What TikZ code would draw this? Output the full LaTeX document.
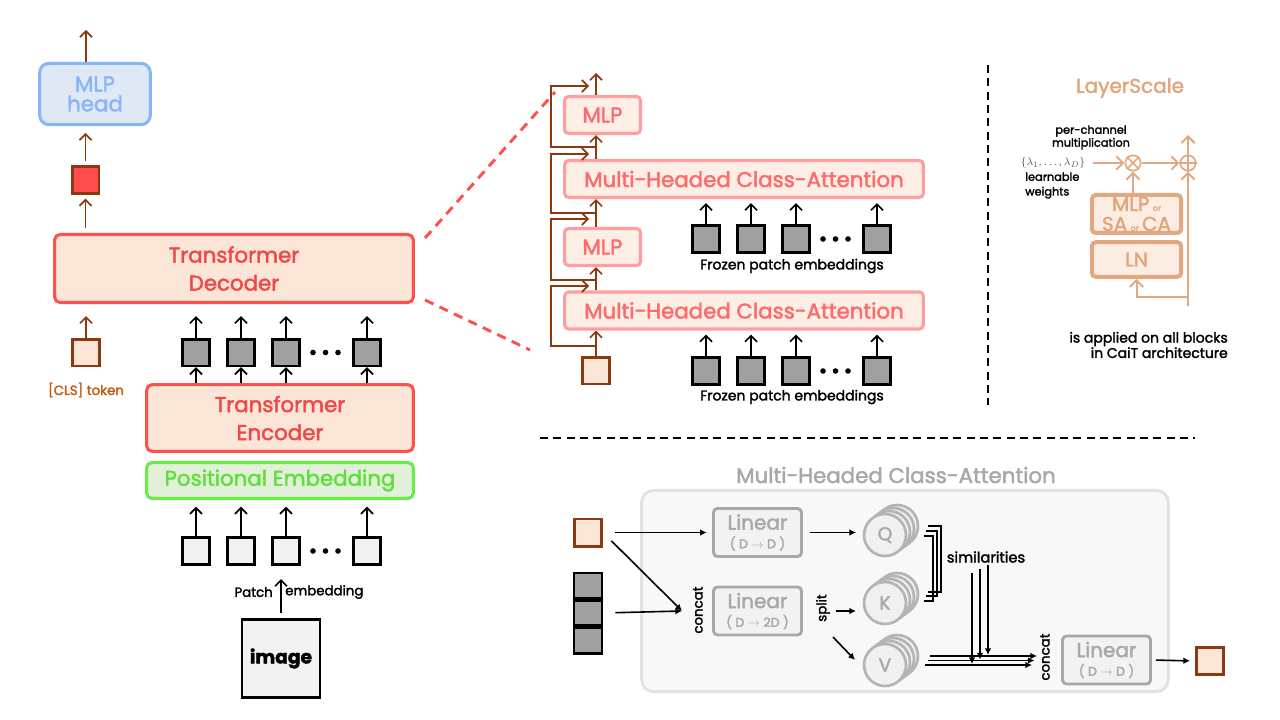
\documentclass[tikz,border=0pt]{standalone}
\usepackage{fontspec}
\setmainfont{Poppins}[FakeBold=2]
\usetikzlibrary{arrows.meta}

\definecolor{brownline}{HTML}{8B3A0F}
\definecolor{clstext}{HTML}{C55A11}
\definecolor{clsred}{HTML}{FF4B4B}
\definecolor{decfill}{HTML}{FBE5D6}
\definecolor{redline}{HTML}{FF5050}
\definecolor{redtext}{HTML}{F04848}
\definecolor{paleline}{HTML}{FF9E9E}
\definecolor{palefill}{HTML}{FDEEE6}
\definecolor{paletext}{HTML}{FF6B6B}
\definecolor{headline}{HTML}{8AB4F8}
\definecolor{headfill}{HTML}{DFE9F6}
\definecolor{greenline}{HTML}{66EE44}
\definecolor{greenfill}{HTML}{E2F0D9}
\definecolor{greentext}{HTML}{5EDF3A}
\definecolor{patchgray}{HTML}{A0A0A0}
\definecolor{patchlight}{HTML}{F2F2F2}
\definecolor{tanline}{HTML}{E2A882}
\definecolor{tantext}{HTML}{E4A47C}
\definecolor{tanfill}{HTML}{FCEDE3}
\definecolor{lingray}{HTML}{A8A8A8}
\definecolor{linfill}{HTML}{F2F2F2}
\definecolor{framefill}{HTML}{F8F8F8}
\definecolor{frameline}{HTML}{E2E2E2}
\definecolor{circline}{HTML}{B4B4B4}
\definecolor{circfill}{HTML}{F0F0F0}
\definecolor{lamtext}{HTML}{555555}

\tikzset{
  arr/.style={line width=1.3pt,-{Straight Barb[length=4.5pt,width=9pt]}},
  brarr/.style={arr,draw=brownline},
  tanarr/.style={line width=1.5pt,draw=tanline,-{Straight Barb[length=5pt,width=10pt]}},
  opline/.style={line width=1.3pt,draw=tanline},
  sarr/.style={line width=1.2pt,-{Latex[length=5pt,width=5pt]}},
  patch/.style={draw=black,line width=2pt,fill=patchgray,minimum size=20pt,inner sep=0pt},
  lightpatch/.style={patch,fill=patchlight},
  clsbox/.style={draw=brownline,line width=2pt,fill=decfill,minimum size=20pt,inner sep=0pt},
  dotb/.style={circle,fill=black,minimum size=4.2pt,inner sep=0pt},
  headbox/.style={draw=headline,line width=2.3pt,fill=headfill,rounded corners=7pt,text=headline,align=center,inner sep=0pt,minimum width=83pt,minimum height=46pt,font=\fontsize{16}{15}\selectfont},
  bigbox/.style={draw=redline,line width=2.3pt,fill=decfill,rounded corners=4pt,text=redtext,align=center,inner sep=0pt,font=\fontsize{16}{21}\selectfont},
  posbox/.style={draw=greenline,line width=2.3pt,fill=greenfill,rounded corners=4pt,text=greentext,inner sep=0pt,font=\fontsize{16}{19}\selectfont},
  imgbox/.style={draw=black,line width=2pt,fill=patchlight,minimum size=58.5pt,inner sep=0pt,font=\bfseries\fontsize{14}{16}\selectfont},
  blockbox/.style={draw=paleline,line width=2.3pt,fill=palefill,rounded corners=3pt,text=paletext,inner sep=0pt,minimum height=27.75pt,font=\fontsize{16}{19}\selectfont},
  smalltxt/.style={inner sep=0pt,font=\fontsize{10}{12}\selectfont},
  linbox/.style={draw=lingray,line width=2.2pt,fill=linfill,rounded corners=3pt,text=lingray,align=center,inner sep=0pt,minimum width=66pt,minimum height=36pt,font=\fontsize{15}{14}\selectfont},
  qkv/.style={circle,draw=circline,line width=2pt,fill=circfill,minimum size=31.5pt,inner sep=0pt,text=lingray,font=\fontsize{14}{14}\selectfont},
  opcirc/.style={circle,draw=tanline,line width=1.3pt,minimum size=11.5pt,inner sep=0pt},
  lsbox/.style={draw=tanline,line width=3pt,fill=tanfill,rounded corners=3pt,text=tantext,align=center,inner sep=0pt,minimum width=67pt,font=\fontsize{15}{15}\selectfont},
  zoomline/.style={draw=redline,line width=2.2pt,dash pattern=on 7pt off 5pt},
  sepline/.style={line width=1pt,dash pattern=on 6pt off 4pt},
  frame/.style={draw=frameline,line width=2.2pt,fill=framefill,rounded corners=9pt,minimum width=395pt,minimum height=151pt,inner sep=0pt},
}

\begin{document}
\begin{tikzpicture}[x=0.75pt,y=0.75pt,yscale=-1,xscale=1]
    \useasboundingbox (0,0) rectangle (1280,720);
    % left: encoder and decoder
    \node[headbox] (head) at (95,94) {MLP\\head};
    \coordinate (headout) at (86,30);
    \draw[brarr] (head.north -| headout) -- (headout);
    \node[clsbox,fill=clsred] (clsout) at (85.5,180) {};
    \draw[brarr,shorten <=3pt,shorten >=5pt] (clsout.north) -- (clsout.north |- head.south);
    \node[bigbox,minimum width=269pt,minimum height=51pt] (dec) at (234,268.5) {Transformer\\Decoder};
    \draw[brarr,shorten <=4pt,shorten >=3pt] (clsout.south |- dec.north) -- (clsout.south);
    \node[clsbox] (cls) at (86,352.5) {};
    \draw[brarr,shorten >=9pt] (cls.north) -- (cls.north |- dec.south);
    \node[smalltxt,text=clstext] (clstxt) at (86,390) {[CLS] token};
    \node[patch] (pa) at (196,352.5) {};
    \node[patch] (pb) at (241,352.5) {};
    \node[patch] (pc) at (286,352.5) {};
    \node[patch] (pd) at (367,352.5) {};
    \node[dotb] (da) at (313,352.5) {};
    \node[dotb] (db) at (325.5,352.5) {};
    \node[dotb] (dc) at (338,352.5) {};
    \draw[arr,shorten >=9pt] (pa.north) -- (pa.north |- dec.south);
    \draw[arr,shorten >=9pt] (pb.north) -- (pb.north |- dec.south);
    \draw[arr,shorten >=9pt] (pc.north) -- (pc.north |- dec.south);
    \draw[arr,shorten >=9pt] (pd.north) -- (pd.north |- dec.south);
    \node[bigbox,minimum width=200pt,minimum height=50pt] (enc) at (280,418) {Transformer\\Encoder};
    \draw[arr] (pa.south |- enc.north) -- (pa.south);
    \draw[arr] (pb.south |- enc.north) -- (pb.south);
    \draw[arr] (pc.south |- enc.north) -- (pc.south);
    \draw[arr] (pd.south |- enc.north) -- (pd.south);
    \node[posbox,minimum width=200pt,minimum height=27pt] (pos) at (280,480.5) {Positional Embedding};
    \node[lightpatch] (la) at (196,551) {};
    \node[lightpatch] (lb) at (241,551) {};
    \node[lightpatch] (lc) at (286,551) {};
    \node[lightpatch] (ld) at (367,551) {};
    \node[dotb] (ea) at (313,551) {};
    \node[dotb] (eb) at (325.5,551) {};
    \node[dotb] (ec) at (338,551) {};
    \draw[arr,shorten >=5pt] (la.north) -- (la.north |- pos.south);
    \draw[arr,shorten >=5pt] (lb.north) -- (lb.north |- pos.south);
    \draw[arr,shorten >=5pt] (lc.north) -- (lc.north |- pos.south);
    \draw[arr,shorten >=5pt] (ld.north) -- (ld.north |- pos.south);
    \node[imgbox] (img) at (281,658.5) {image};
    \draw[arr,shorten <=4pt,shorten >=10pt] (img.north) -- (img.north |- lc.south);
    \node[smalltxt,anchor=east] (ptxt) at (273,592) {Patch};
    \node[smalltxt,anchor=west] (etxt) at (285,592) {embedding};
    \draw[zoomline] (425,238) -- (555,92);
    \draw[zoomline] (425,300) -- (530,350);
    % middle: class-attention stage
    \node[blockbox,minimum width=57pt] (mlpa) at (602.5,115) {MLP};
    \node[blockbox,minimum width=269pt] (mhcaa) at (744,179) {Multi-Headed Class-Attention};
    \node[blockbox,minimum width=57pt] (mlpb) at (602.5,247) {MLP};
    \node[blockbox,minimum width=269pt] (mhcab) at (744,310.5) {Multi-Headed Class-Attention};
    \node[clsbox] (clsb) at (596,370.5) {};
    \coordinate (decout) at (596,73);
    \draw[brarr] (clsb.north) -- (clsb.north |- mhcab.south);
    \draw[brarr] (clsb.north |- mhcab.north) -- (clsb.north |- mlpb.south);
    \draw[brarr] (clsb.north |- mlpb.north) -- (clsb.north |- mhcaa.south);
    \draw[brarr] (clsb.north |- mhcaa.north) -- (clsb.north |- mlpa.south);
    \draw[brarr] (clsb.north |- mlpa.north) -- (decout);
    \coordinate (ra) at (596,346);
    \coordinate (ta) at (589,286);
    \coordinate (rb) at (596,280);
    \coordinate (tb) at (589,219);
    \coordinate (rc) at (596,213);
    \coordinate (tc) at (589,154);
    \coordinate (rd) at (596,147);
    \coordinate (td) at (589,86);
    \draw[brarr] (ra) -- ++(-45,0) |- (ta);
    \draw[brarr] (rb) -- ++(-45,0) |- (tb);
    \draw[brarr] (rc) -- ++(-45,0) |- (tc);
    \draw[brarr] (rd) -- ++(-45,0) |- (td);
    \node[patch] (fa) at (706,239) {};
    \node[patch] (fb) at (751,239) {};
    \node[patch] (fc) at (796,239) {};
    \node[patch] (fd) at (877,239) {};
    \node[dotb] (ga) at (823,239) {};
    \node[dotb] (gb) at (835.5,239) {};
    \node[dotb] (gc) at (848,239) {};
    \draw[arr,shorten >=3pt] (fa.north) -- (fa.north |- mhcaa.south);
    \draw[arr,shorten >=3pt] (fb.north) -- (fb.north |- mhcaa.south);
    \draw[arr,shorten >=3pt] (fc.north) -- (fc.north |- mhcaa.south);
    \draw[arr,shorten >=3pt] (fd.north) -- (fd.north |- mhcaa.south);
    \node[smalltxt,font=\fontsize{10.5}{12}\selectfont] (fta) at (792,266) {Frozen patch embeddings};
    \node[patch] (ha) at (706,371) {};
    \node[patch] (hb) at (751,371) {};
    \node[patch] (hc) at (796,371) {};
    \node[patch] (hd) at (877,371) {};
    \node[dotb] (ka) at (823,371) {};
    \node[dotb] (kb) at (835.5,371) {};
    \node[dotb] (kc) at (848,371) {};
    \draw[arr,shorten >=3pt] (ha.north) -- (ha.north |- mhcab.south);
    \draw[arr,shorten >=3pt] (hb.north) -- (hb.north |- mhcab.south);
    \draw[arr,shorten >=3pt] (hc.north) -- (hc.north |- mhcab.south);
    \draw[arr,shorten >=3pt] (hd.north) -- (hd.north |- mhcab.south);
    \node[smalltxt,font=\fontsize{10.5}{12}\selectfont] (ftb) at (792,397) {Frozen patch embeddings};
    % separators
    \draw[sepline] (988,65) -- (988,405);
    \draw[sepline] (540,438) -- (1195,438);
    % right: LayerScale
    \node[text=tantext,font=\fontsize{15}{18}\selectfont] (lstitle) at (1130,88) {LayerScale};
    \node[smalltxt,align=center,font=\fontsize{8.5}{8.5}\selectfont] (pcm) at (1091,137.5) {per-channel\\multiplication};
    \node[inner sep=0pt,text=lamtext,font=\fontsize{8.5}{10}\selectfont] (lam) at (1053,163) {$\{\lambda_1,\ldots,\lambda_D\}$};
    \node[smalltxt,align=left,anchor=west,font=\fontsize{8.5}{11}\selectfont] (lw) at (1025,185.5) {learnable\\weights};
    \node[opcirc] (mul) at (1133,163) {};
    \draw[opline] (mul.45) -- (mul.225) (mul.135) -- (mul.315);
    \node[opcirc] (add) at (1188,163) {};
    \draw[opline] (add.north) -- (add.south) (add.west) -- (add.east);
    \draw[tanarr,shorten <=6pt] (lam.east) -- (mul.west);
    \draw[tanarr] (mul.east) -- (add.west);
    \coordinate (lsout) at (1188,135);
    \draw[tanarr] (add.north) -- (lsout);
    \node[lsbox,minimum height=28.5pt] (ms) at (1136.5,214) {MLP\,{\fontsize{6}{6}\selectfont or}\\SA\,{\fontsize{6}{6}\selectfont or}\,CA};
    \node[lsbox,minimum height=26pt] (ln) at (1136.5,259.5) {LN};
    \draw[tanarr] (mul.south |- ms.north) -- (mul.south);
    \coordinate (lsin) at (1188,306);
    \coordinate (lsbr) at (1188,297);
    \draw[tanarr] (lsin) -- (add.south);
    \draw[tanarr] (lsbr) -| (ln.south);
    \node[smalltxt,align=right,anchor=east,font=\fontsize{10.5}{11.5}\selectfont] (lsnote) at (1228,345) {is applied on all blocks\\in CaiT architecture};
    % bottom: class-attention detail
    \node[text=lingray,font=\fontsize{16}{19}\selectfont] (mtitle) at (896,475) {Multi-Headed Class-Attention};
    \node[frame] (frm) at (905,591) {};
    \node[clsbox,minimum size=20.5pt] (qin) at (588,532.5) {};
    \node[patch,minimum width=21pt,minimum height=19pt] (kva) at (588,585.5) {};
    \node[patch,minimum width=21pt,minimum height=19pt] (kvb) at (588,613) {};
    \node[patch,minimum width=21pt,minimum height=19pt] (kvc) at (588,640.5) {};
    \coordinate (cc) at (682,611);
    \node[linbox] (lina) at (757.5,532.5) {Linear\\{\fontsize{9.5}{10}\selectfont( D $\rightarrow$ D )}};
    \node[linbox] (linb) at (757.5,611) {Linear\\{\fontsize{9.5}{10}\selectfont( D $\rightarrow$ 2D )}};
    \draw[sarr,shorten <=9pt,shorten >=4pt] (qin.east) -- (qin.east -| lina.west);
    \draw[sarr,shorten <=9pt] (qin.east) -- (cc);
    \draw[sarr,shorten <=9pt] (kvb.east) -- (cc);
    \node[smalltxt,rotate=90] (cca) at (698,610) {concat};
    \node[smalltxt,rotate=90] (spl) at (823,608) {split};
    \node[qkv] (qc) at (897,526) {};
    \node[qkv] (qb) at (893,529) {};
    \node[qkv] (qa) at (889,532) {};
    \node[qkv] (q) at (885,535) {Q};
    \node[qkv] (kc) at (897,594) {};
    \node[qkv] (kb) at (893,597) {};
    \node[qkv] (ka) at (889,600) {};
    \node[qkv] (k) at (885,603) {K};
    \node[qkv] (vc) at (897,656) {};
    \node[qkv] (vb) at (893,659) {};
    \node[qkv] (va) at (889,662) {};
    \node[qkv] (v) at (885,665) {V};
    \draw[sarr,shorten <=5pt,shorten >=5pt] (lina.east) -- (lina.east -| q.west);
    \draw[sarr,shorten <=25pt,shorten >=5pt] (linb.east) -- (linb.east -| k.west);
    \coordinate (vs) at (833,637);
    \coordinate (ve) at (855,660);
    \draw[sarr] (vs) -- (ve);
    \draw[line width=1.6pt] (924,536) -- (933,536) -- (933,601) -- (924,601);
    \draw[line width=1.6pt] (926,531) -- (937,531) -- (937,596) -- (926,596);
    \draw[line width=1.6pt] (928,526) -- (941,526) -- (941,592) -- (928,592);
    \node[smalltxt,font=\fontsize{11}{12}\selectfont] (sim) at (986,557) {similarities};
    \draw[sarr] (972,573) -- (972,664);
    \draw[sarr] (980,569) -- (980,659.5);
    \draw[sarr] (988,565) -- (988,655);
    \draw[sarr] (925,665) -- (1032,665);
    \draw[sarr] (927.5,660.5) -- (1034.5,660.5);
    \draw[sarr] (930,656) -- (1037,656);
    \node[smalltxt,rotate=90] (ccb) at (1045,657) {concat};
    \node[linbox] (linc) at (1106.5,660) {Linear\\{\fontsize{9.5}{10}\selectfont( D $\rightarrow$ D )}};
    \node[clsbox] (qout) at (1210,661) {};
    \draw[sarr,shorten <=3pt,shorten >=4pt] (linc.east) -- (qout.west);
\end{tikzpicture}
\end{document}
